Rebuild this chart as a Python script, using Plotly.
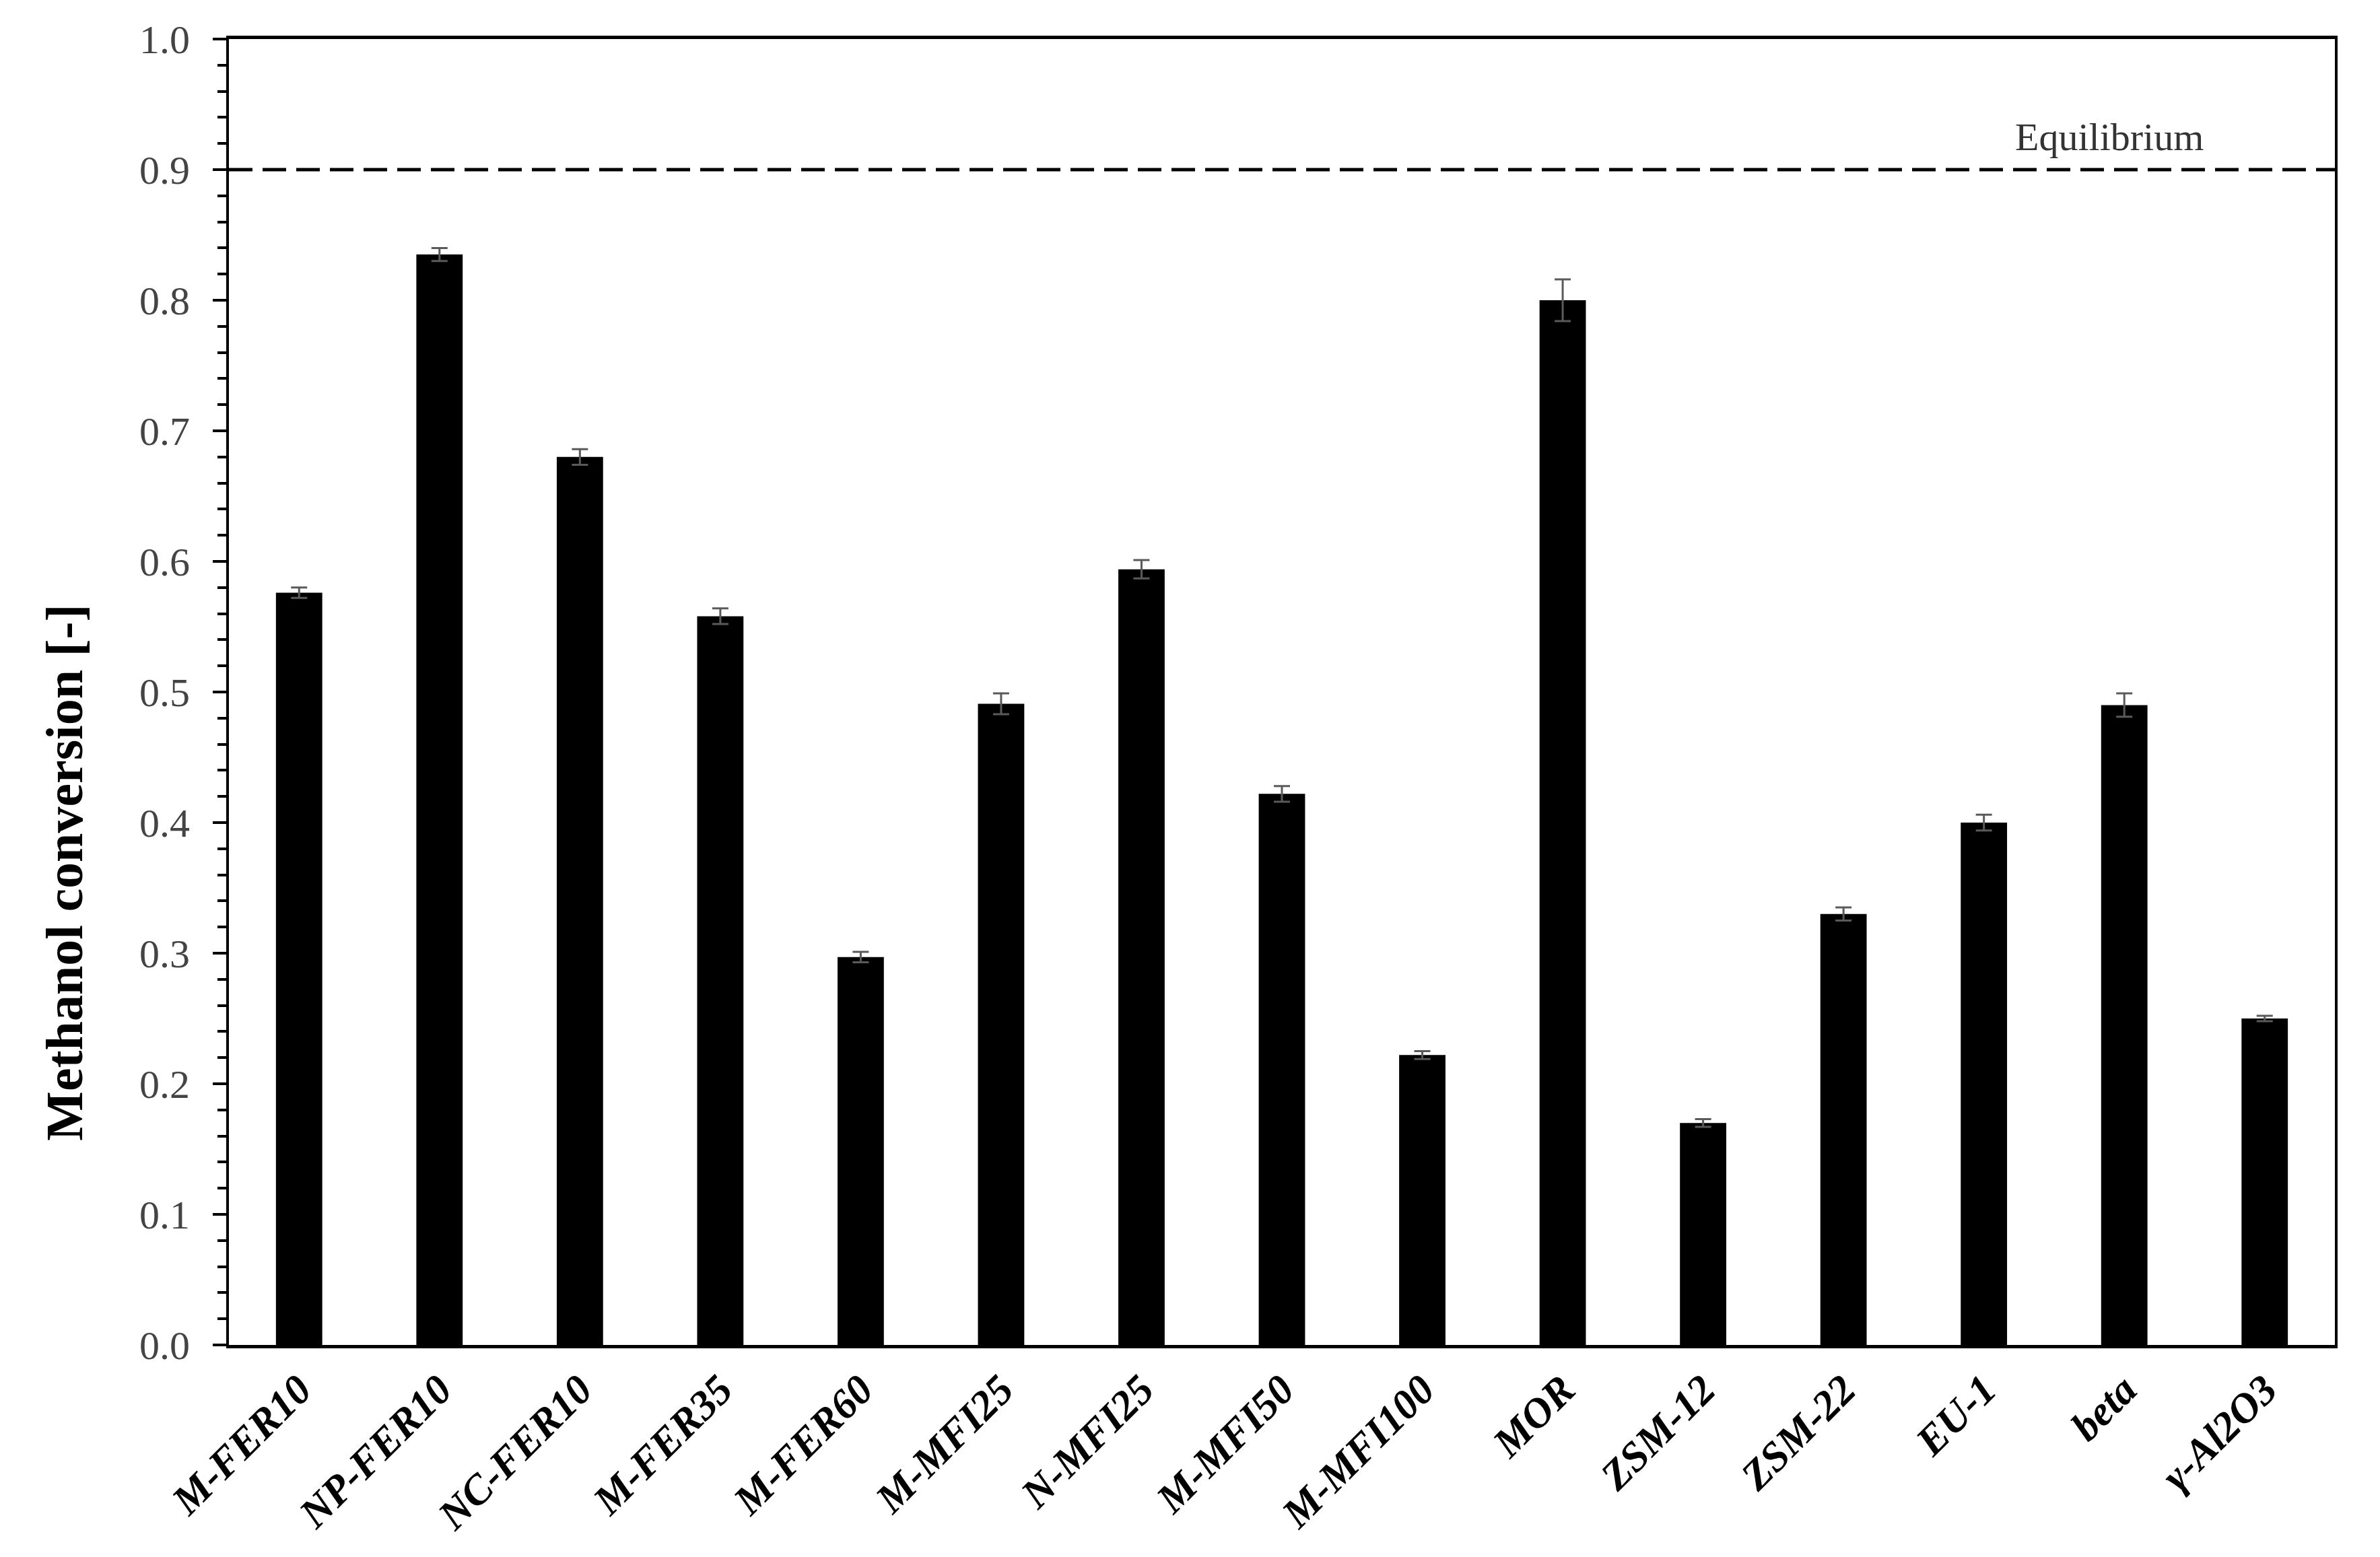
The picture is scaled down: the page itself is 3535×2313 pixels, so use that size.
import plotly.graph_objects as go

# ─── Data ─────────────────────────────────────────────────────────────────────

catalysts = [
    "M-FER10", "NP-FER10", "NC-FER10", "M-FER35", "M-FER60",
    "M-MFI25", "N-MFI25", "M-MFI50", "M-MFI100", "MOR",
    "ZSM-12", "ZSM-22", "EU-1", "beta", "γ-Al2O3",
]
conversion = [
    0.576, 0.835, 0.680, 0.558, 0.297,
    0.491, 0.594, 0.422, 0.222, 0.800,
    0.170, 0.330, 0.400, 0.490, 0.250,
]
conversion_err = [
    0.004, 0.005, 0.006, 0.006, 0.004,
    0.008, 0.007, 0.006, 0.003, 0.016,
    0.003, 0.005, 0.006, 0.009, 0.002,
]
equilibrium = 0.9
y_ticks = [0.0, 0.1, 0.2, 0.3, 0.4, 0.5, 0.6, 0.7, 0.8, 0.9, 1.0]

FONT = "Palatino Linotype, Book Antiqua, Palatino, Liberation Serif, serif"

# ─── Figure ───────────────────────────────────────────────────────────────────

fig = go.Figure()
fig.add_trace(go.Bar(
    x=catalysts, y=conversion,
    marker=dict(color="black", line=dict(width=0)),
    error_y=dict(type="data", array=conversion_err, visible=True,
                 color="#5a5a5a", thickness=3, width=12),
    width=0.33,
))

# Equilibrium line
fig.add_hline(y=equilibrium, line_dash="35px,15px", line_color="black", line_width=5)
fig.add_annotation(
    x=0.893, xref="paper", y=equilibrium, yref="y",
    text="Equilibrium", showarrow=False, xanchor="center", yanchor="bottom", yshift=14,
    font=dict(family=FONT, size=58, color="#333333"),
)

# y-axis title (sits lower than the plot centre in the original)
fig.add_annotation(
    x=-0.078, xref="paper", y=0.3615, yref="paper",
    text="<b>Methanol conversion [-]</b>", textangle=-90, showarrow=False,
    xanchor="center", yanchor="middle",
    font=dict(family=FONT, size=78, color="black"),
)

fig.update_layout(
    width=3535, height=2313,
    margin=dict(l=332, r=75, t=50, b=323),
    plot_bgcolor="white", paper_bgcolor="white",
    showlegend=False,
    font=dict(family=FONT, color="black"),
)
fig.update_xaxes(
    showline=True, linecolor="black", linewidth=5, mirror=True,
    ticks="", tickangle=-45,
    tickfont=dict(family=FONT, size=62, color="black", weight="bold", style="italic"),
    range=[-0.5, len(catalysts) - 0.5],
)
fig.update_yaxes(
    range=[0, 1.0], tickvals=y_ticks, tickformat=".1f",
    showline=True, linecolor="black", linewidth=4, mirror=True,
    ticks="outside", ticklen=20, tickwidth=4, tickcolor="black",
    minor=dict(dtick=0.02, ticks="outside", ticklen=13, tickwidth=4, tickcolor="black"),
    showgrid=False, zeroline=False, ticklabelstandoff=22,
    tickfont=dict(family=FONT, size=60, color="#444444"),
)

fig.write_html("out.html")
